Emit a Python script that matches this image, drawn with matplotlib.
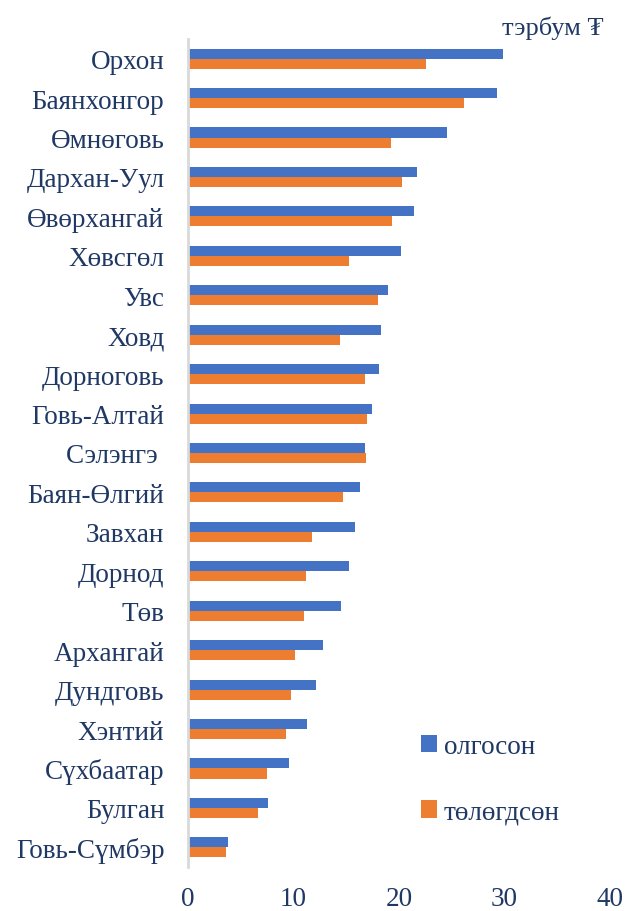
import numpy as np
import matplotlib.pyplot as plt

# Data (тэрбум ₮)
aimags = ['Орхон', 'Баянхонгор', 'Өмнөговь', 'Дархан-Уул', 'Өвөрхангай',
          'Хөвсгөл', 'Увс', 'Ховд', 'Дорноговь', 'Говь-Алтай', 'Сэлэнгэ ',
          'Баян-Өлгий', 'Завхан', 'Дорнод', 'Төв', 'Архангай', 'Дундговь',
          'Хэнтий', 'Сүхбаатар', 'Булган', 'Говь-Сүмбэр']
olgoson = [29.9, 29.3, 24.6, 21.7, 21.4, 20.2, 19.0, 18.3, 18.1, 17.4, 16.8,
           16.3, 15.8, 15.3, 14.5, 12.8, 12.1, 11.3, 9.6, 7.6, 3.8]
tologdson = [22.6, 26.2, 19.2, 20.3, 19.3, 15.3, 18.0, 14.4, 16.8, 17.0, 16.9,
             14.7, 11.8, 11.2, 11.0, 10.1, 9.75, 9.3, 7.5, 6.6, 3.65]
series_names = ['олгосон', 'төлөгдсөн']
xticks = [0, 10, 20, 30, 40]

blue = '#4472C4'
orange = '#ED7D31'
txt = '#1F3864'
font = ['Liberation Serif', 'DejaVu Serif']
plt.rcParams['font.family'] = font

fig = plt.figure(figsize=(6.27, 9.12), dpi=100)
ax = fig.add_axes([0.2998, 0.0482, 0.673, 0.908])

y = np.arange(len(aimags))
h = 0.255
ax.barh(y - h / 2, olgoson, height=h, color=blue, label=series_names[0])
ax.barh(y + h / 2, tologdson, height=h, color=orange, label=series_names[1])

ax.set_xlim(0, 40)
ax.set_ylim(len(aimags) - 0.5, -0.5)
ax.set_xticks(xticks)
ax.set_yticks(y)
ax.set_yticklabels(aimags)
ax.tick_params(axis='y', length=0, pad=17, labelsize=19.5, labelcolor=txt)
ax.tick_params(axis='x', length=0, pad=14, labelsize=19.5, labelcolor=txt)

for s in ['top', 'right', 'bottom']:
    ax.spines[s].set_visible(False)
ax.spines['left'].set_color('#D9D9D9')
ax.spines['left'].set_linewidth(2)

fig.text(0.962, 0.969, 'тэрбум ₮', ha='right', va='center', fontsize=19, color=txt, family=font)

leg = ax.legend(loc='upper left', bbox_to_anchor=(0.632, 0.221), bbox_transform=fig.transFigure,
                frameon=False, fontsize=19.5, handlelength=0.6, handleheight=0.6,
                handletextpad=0.25, labelspacing=1.5)
for t in leg.get_texts():
    t.set_color(txt)

fig.savefig('out.png', dpi=100)
